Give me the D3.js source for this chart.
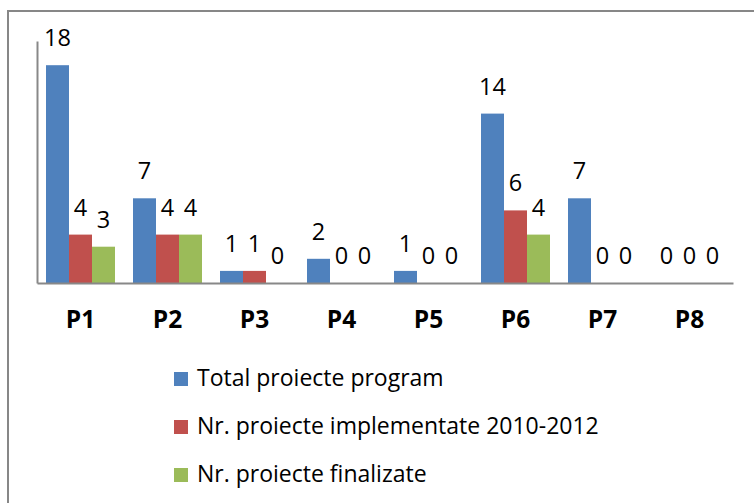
<!DOCTYPE html>
<html>
<head>
<meta charset="utf-8">
<script src="https://cdn.jsdelivr.net/npm/d3@7"></script>
<style>
  body { margin: 0; background: #fff; }
  text { font-family: "Open Sans", Lato, sans-serif; fill: #000; }
</style>
</head>
<body>
<div id="chart"></div>
<script>
// data
const categories = ["P1", "P2", "P3", "P4", "P5", "P6", "P7", "P8"];
const seriesNames = ["Total proiecte program", "Nr. proiecte implementate 2010-2012", "Nr. proiecte finalizate"];
const totalProiecte = [18, 7, 1, 2, 1, 14, 7, 0];
const implementate = [4, 4, 1, 0, 0, 6, 0, 0];
const finalizate = [3, 4, 0, 0, 0, 4, 0, 0];
const colors = ["#4F81BD", "#C0504D", "#9BBB59"];

const series = [totalProiecte, implementate, finalizate];

const W = 754, H = 503;
var margin = {top: 41, left: 37},
    width = 696,
    height = 242;

const svg = d3.select("#chart")
  .append("svg")
  .attr("width", W)
  .attr("height", H);

// outer frame
svg.append("rect")
  .attr("x", 8).attr("y", 11)
  .attr("width", 800).attr("height", 600)
  .attr("fill", "none")
  .attr("stroke", "#878787")
  .attr("stroke-width", 2);

const g = svg.append("g")
  .attr("transform", `translate(${margin.left}, ${margin.top})`);

// scales
const x = d3.scaleBand()
  .domain(categories)
  .range([0, width])
  .paddingInner(18 / 87)
  .paddingOuter(9 / 87);

const xs = d3.scaleBand()
  .domain(d3.range(series.length))
  .range([0, x.bandwidth()]);

const y = d3.scaleLinear()
  .domain([0, 20])
  .range([height, 0]);

// bars
const groups = g.selectAll("g.cat")
  .data(categories)
  .join("g")
  .attr("class", "cat")
  .attr("transform", d => `translate(${x(d)},0)`);

groups.selectAll("rect")
  .data((d, i) => series.map((s, k) => ({k: k, v: s[i]})))
  .join("rect")
  .attr("x", d => xs(d.k))
  .attr("y", d => y(d.v))
  .attr("width", xs.bandwidth())
  .attr("height", d => height - y(d.v))
  .attr("fill", d => colors[d.k]);

// value labels
groups.selectAll("text.val")
  .data((d, i) => series.map((s, k) => ({k: k, v: s[i]})))
  .join("text")
  .attr("class", "val")
  .attr("x", d => xs(d.k) + xs.bandwidth() / 2)
  .attr("y", d => y(d.v) - 19)
  .attr("text-anchor", "middle")
  .style("font-size", "23.5px")
  .text(d => d.v);

// axes
const yAxis = g.append("g")
  .call(d3.axisLeft(y).tickValues([]).tickSizeOuter(0));
yAxis.select(".domain").attr("stroke", "#888").attr("stroke-width", 2);

const xAxis = g.append("g")
  .attr("transform", `translate(0, ${height})`)
  .call(d3.axisBottom(x).tickSize(0).tickSizeOuter(0).tickPadding(28));
xAxis.select(".domain").attr("stroke", "#888").attr("stroke-width", 2);
xAxis.selectAll("text")
  .attr("dy", "0.71em")
  .style("font-size", "24.5px")
  .style("font-weight", "bold")
  .style("font-family", "'Open Sans', sans-serif")
  .attr("fill", "#000");

// legend
const legend = svg.append("g")
  .attr("transform", "translate(174, 372)");

const items = legend.selectAll("g")
  .data(seriesNames)
  .join("g")
  .attr("transform", (d, i) => `translate(0, ${i * 48})`);

items.append("rect")
  .attr("width", 14).attr("height", 14)
  .attr("fill", (d, i) => colors[i]);

items.append("text")
  .attr("x", 23)
  .attr("y", 14)
  .style("font-size", "23px")
  .text(d => d);
</script>
</body>
</html>
